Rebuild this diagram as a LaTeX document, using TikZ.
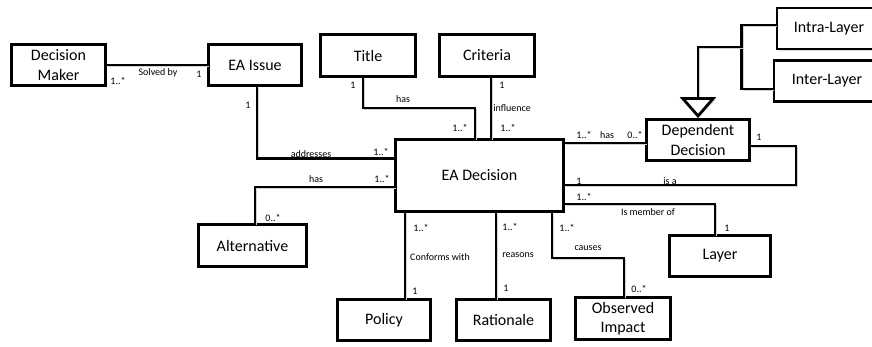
\documentclass[tikz,border=0pt]{standalone}
\usepackage{fontspec}
\setmainfont{Carlito}
\usetikzlibrary{arrows.meta, calc, shadows}

\tikzset{
  entity/.style={draw, line width=2.8pt, fill=white, align=center, inner sep=1pt,
    minimum width=#1, minimum height=41pt, font=\fontsize{16}{19.5}\selectfont,
    drop shadow={shadow xshift=1.5pt, shadow yshift=-1.5pt, fill=black!25}},
  entity/.default=94pt,
  conn/.style={line width=2.8pt,
    preaction={draw=black!18, transform canvas={shift={(1.5pt,-1.5pt)}}}},
  mult/.style={font=\fontsize{10}{12}\selectfont, inner sep=0pt},
}

\begin{document}
\begin{tikzpicture}[x=1pt, y=-1pt, line cap=rect]
  \useasboundingbox (0,0) rectangle (872,346);

  % entities
  \node[entity=94pt] (maker) at (58.5,65) {Decision\\Maker};
  \node[entity=93pt] (issue) at (255,65) {EA Issue};
  \node[entity=95pt, minimum height=42pt] (title) at (368,55.5) {Title};
  \node[entity=95pt, minimum height=42pt] (criteria) at (487,55.5) {Criteria};
  \node[entity=168pt, minimum height=72pt] (decision) at (479.5,175.5) {EA Decision};
  \node[entity=103pt] (dependent) at (698,140) {Dependent\\Decision};
  \node[entity=120pt] (intra) at (837,28.5) {Intra-Layer\hspace*{16pt}};
  \node[entity=122pt] (inter) at (835,81) {Inter-Layer\hspace*{16pt}};
  \node[entity=101pt] (layer) at (720,256) {Layer};
  \node[entity=95pt, minimum height=42pt] (impact) at (623,318.5) {Observed\\Impact};
  \node[entity=94pt] (rationale) at (503.5,320) {Rationale};
  \node[entity=93pt] (policy) at (384,320) {Policy};
  \node[entity=108pt, minimum height=42pt] (alternative) at (252.5,245.5) {Alternative};

  \coordinate (crit top) at ($(criteria.south)+(4,0)$);
  \coordinate (pol top) at ($(policy.north)+(21,0)$);
  \coordinate (rat top) at ($(rationale.north)+(-7.5,0)$);

  % associations
  \draw[conn] (maker) -- (issue);
  \node[mult] at (118,81) {1..*};
  \node[mult] at (158,73) {Solved by};
  \node[mult] at (199,74) {1};

  \draw[conn] ($(issue.south)+(2,0)$) |- ($(decision.north west)+(0,20)$);
  \node[mult] at (248,105) {1};
  \node[mult] at (311,154) {addresses};
  \node[mult] at (381,152) {1..*};

  \draw[conn] ($(title.south)+(-5,0)$) -- ++(0,30) -| ($(decision.north)+(-4.5,0)$);
  \node[mult] at (353,85) {1};
  \node[mult] at (403,99) {has};
  \node[mult] at (460,128) {1..*};

  \draw[conn] (crit top) -- (crit top |- decision.north);
  \node[mult] at (502,85) {1};
  \node[mult] at (512,108) {influence};
  \node[mult] at (508,128) {1..*};

  \draw[conn] ($(decision.west)+(0,11.5)$) -| ($(alternative.north)+(2.5,0)$);
  \node[mult] at (316,179) {has};
  \node[mult] at (382,179) {1..*};
  \node[mult] at (273,218) {0..*};

  \draw[conn] (pol top |- decision.south) -- (pol top);
  \node[mult] at (421,228) {1..*};
  \node[mult] at (440,257) {Conforms with};
  \node[mult] at (415,291) {1};

  \draw[conn] (rat top |- decision.south) -- (rat top);
  \node[mult] at (510,227) {1..*};
  \node[mult] at (518,255) {reasons};
  \node[mult] at (506,288) {1};

  \draw[conn] ($(decision.south)+(72.5,0)$) -- ++(0,45) -| ($(impact.north)+(1,0)$);
  \node[mult] at (567,228) {1..*};
  \node[mult] at (588,248) {causes};
  \node[mult] at (639,289) {0..*};

  \draw[conn] ($(decision.east)+(0,28.5)$) -| ($(layer.north)+(-5,0)$);
  \node[mult] at (584,197) {1..*};
  \node[mult] at (648,212) {Is member of};
  \node[mult] at (727,228) {1};

  \draw[conn] ($(decision.east)+(0,-32.5)$) -- ($(dependent.west)+(0,3)$);
  \node[mult] at (584,135) {1..*};
  \node[mult] at (607,135) {has};
  \node[mult] at (635,135) {0..*};

  \draw[conn] ($(dependent.east)+(0,6)$) -- ++(45,0) |- ($(decision.east)+(0,9.5)$);
  \node[mult] at (759,137) {1};
  \node[mult] at (579,181) {1};
  \node[mult] at (670,181) {is a};

  % generalization
  \draw[conn] ($(intra.west)+(0,-3.5)$) -| ($(inter.west)+(-31,8)$) -- ($(inter.west)+(0,8)$);
  \draw[conn, -{Triangle[open, length=21pt, width=36pt]}] ($(intra.west)+(-34,18.5)$) -| (dependent.north);

\end{tikzpicture}
\end{document}
